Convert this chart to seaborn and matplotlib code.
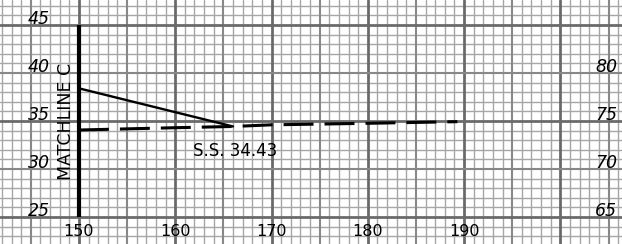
import numpy as np
import seaborn as sns
import matplotlib.pyplot as plt

# values
x_ticks = [150, 160, 170, 180, 190]
left_ticks = [45, 40, 35, 30, 25]
right_ticks = [40, 35, 30, 25]
right_labels = [80, 75, 70, 65]

solid_x = [150, 166]
solid_y = [38.4, 34.43]

dash_x = [150, 160, 166, 170, 180, 189.3]
dash_y = [34.06, 34.3, 34.43, 34.6, 34.76, 34.93]

note = "S.S. 34.43"
matchline_label = "MATCHLINE C"

sns.set_style("white")

fig = plt.figure(figsize=(6.22, 2.44), dpi=100)
ax = fig.add_axes([0, 0, 1, 1])
ax.set_xlim(141.8, 206.4)
ax.set_ylim(22.19, 47.6)
ax.axis("off")

# graph paper grid: fine every 1, medium every 5, heavy every 10
for v in range(141, 208):
    if v % 10 == 0:
        ax.axvline(v, color="#6a6a6a", lw=2.0, zorder=1)
    elif v % 5 == 0:
        ax.axvline(v, color="#888888", lw=1.5, zorder=1)
    else:
        ax.axvline(v, color="#a6a6a6", lw=1.0, zorder=0)
for v in range(22, 48):
    if (v - 5) % 10 == 0:
        ax.axhline(v, color="#6a6a6a", lw=2.0, zorder=1)
    elif v % 5 == 0:
        ax.axhline(v, color="#888888", lw=1.5, zorder=1)
    else:
        ax.axhline(v, color="#a6a6a6", lw=1.0, zorder=0)

# matchline
ax.plot([150, 150], [25, 45], color="black", lw=3.0, zorder=5, solid_capstyle="butt")
ax.text(148.65, 35, matchline_label, rotation=90, ha="center", va="center",
        fontsize=12.5, color="black", zorder=6)

sns.lineplot(x=solid_x, y=solid_y, color="black", linewidth=1.7, ax=ax, zorder=4)
sns.lineplot(x=dash_x, y=dash_y, color="black", linewidth=2.2, ax=ax, zorder=4,
             linestyle=(0, (9.8, 3.6)))

ax.text(161.84, 31.35, note, ha="left", va="baseline", fontsize=12, color="black")

for t in x_ticks:
    ax.text(t, 23.02, str(t), ha="center", va="baseline", fontsize=11.5, color="black")
for t in left_ticks:
    ax.text(147.0, t + 0.1, str(t), ha="right", va="baseline", fontsize=12.5,
            style="italic", color="black")
for t, lab in zip(right_ticks, right_labels):
    ax.text(205.9, t + 0.1, str(lab), ha="right", va="baseline", fontsize=12.5,
            style="italic", color="black")

fig.savefig("out.png", dpi=100)
